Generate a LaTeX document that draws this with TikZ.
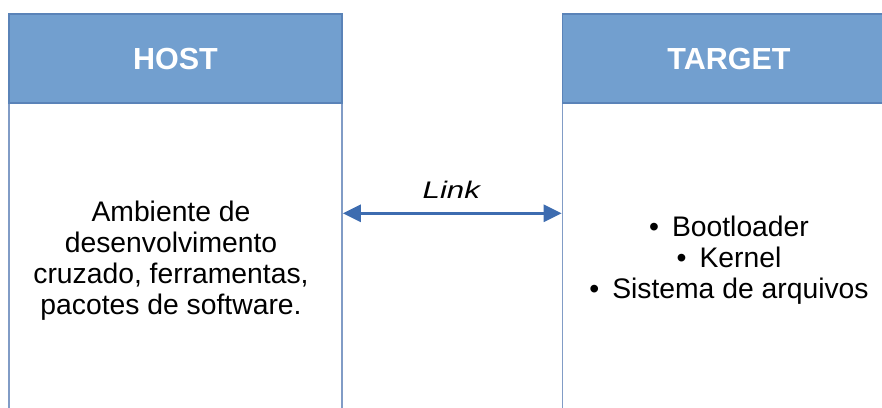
\documentclass[tikz,border=0pt]{standalone}
\usepackage{fontspec}
\setmainfont{Liberation Sans}
\usetikzlibrary{arrows.meta}
\definecolor{headfill}{HTML}{729FCF}
\definecolor{headline}{HTML}{5A83B8}
\definecolor{sideline}{HTML}{819CC6}
\definecolor{linkblue}{HTML}{3D6CB0}
\tikzset{
  panel/.style={draw=sideline, line width=1.6pt, fill=white, inner sep=0pt, minimum width=333pt, minimum height=327pt},
  header/.style={draw=headline, line width=1.2pt, fill=headfill, inner sep=0pt, minimum width=333pt, minimum height=89pt,
    text=white, font=\fontsize{30.5}{34}\selectfont\bfseries},
  bodytext/.style={align=center, inner sep=0pt, font=\fontsize{28.3}{31}\selectfont},
  linktip/.tip={Triangle[length=18pt,width=17pt]},
}
\begin{document}
\begin{tikzpicture}[x=1pt,y=-1pt]
  \useasboundingbox (0,0) rectangle (882,407);
  \begin{scope}
    \clip (0,0) rectangle (882,407);
    % host side
    \node[panel] (hostbody) at (175.5,266.5) {};
    \node[header] (hosthead) at (175.5,58.5) {HOST};
    % target side
    \node[panel] (targetbody) at (729,266.5) {};
    \node[header] (targethead) at (729,58.5) {TARGET};
  \end{scope}
  % contents
  \node[bodytext] (hosttext) at (171,260.5) {Ambiente de\\desenvolvimento\\cruzado, ferramentas,\\pacotes de software.};
  \node[bodytext] (targettext) at (729,260.5) {•\hspace{13pt}Bootloader\\•\hspace{13pt}Kernel\\•\hspace{13pt}Sistema de arquivos};
  % link between the two machines
  \coordinate (linkL) at (hostbody.east |- 0,213.3);
  \coordinate (linkR) at (targetbody.west |- 0,213.3);
  \draw[linkblue, line width=3pt, linktip-linktip] (linkL) -- (linkR);
  \node[anchor=base, inner sep=0pt, font=\fontsize{24}{27}\selectfont\itshape] (linklabel) at (451.3,198.3) {\scalebox{1.3}[1]{Link}};
\end{tikzpicture}
\end{document}
